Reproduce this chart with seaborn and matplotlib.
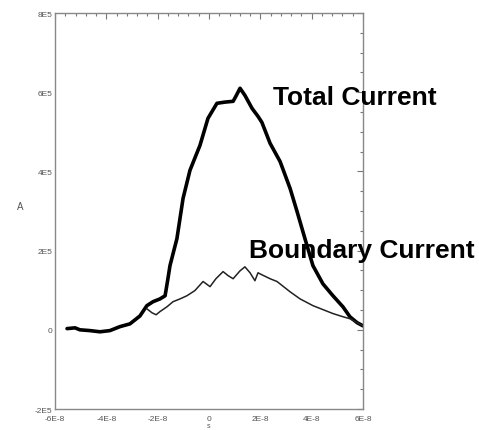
import numpy as np
import pandas as pd
import matplotlib
matplotlib.use("Agg")
import matplotlib.pyplot as plt
import seaborn as sns
from matplotlib.ticker import MultipleLocator

sns.set_style("white")
plt.rcParams['font.family'] = ['Liberation Sans', 'DejaVu Sans']

# time in units of 1E-8 s, current in units of 1E5 A
total_t = [-5.53, -5.22, -5.03, -4.64, -4.25, -3.86, -3.47, -3.08, -2.69, -2.42,
           -2.18, -1.91, -1.71, -1.60, -1.52, -1.25, -1.01, -0.74, -0.35, -0.04,
           0.31, 0.62, 0.94, 1.05, 1.21, 1.40, 1.68, 1.91, 2.06, 2.38,
           2.77, 3.16, 3.43, 3.74, 4.05, 4.44, 4.83, 5.22, 5.49, 5.77, 6.00]
total_i = [0.03, 0.05, 0.00, -0.02, -0.05, -0.02, 0.08, 0.15, 0.35, 0.61,
           0.71, 0.78, 0.86, 1.29, 1.62, 2.30, 3.32, 4.03, 4.66, 5.34,
           5.72, 5.75, 5.77, 5.90, 6.10, 5.92, 5.59, 5.39, 5.24, 4.71,
           4.25, 3.57, 2.99, 2.30, 1.62, 1.16, 0.86, 0.58, 0.33, 0.18, 0.10]

bound_t = [-2.42, -2.22, -2.06, -1.91, -1.64, -1.40, -1.13, -0.86, -0.55, -0.23,
           0.04, 0.27, 0.55, 0.74, 0.94, 1.21, 1.40, 1.60, 1.79, 1.91,
           2.06, 2.38, 2.65, 3.16, 3.55, 4.05, 4.44, 4.83, 5.22, 5.49, 5.77, 6.00]
bound_i = [0.53, 0.43, 0.38, 0.46, 0.58, 0.71, 0.78, 0.86, 0.99, 1.22,
           1.09, 1.29, 1.47, 1.37, 1.29, 1.49, 1.59, 1.44, 1.24, 1.44,
           1.39, 1.29, 1.22, 0.96, 0.78, 0.61, 0.51, 0.41, 0.33, 0.28, 0.18, 0.10]

xticks = [-6e-8, -4e-8, -2e-8, 0, 2e-8, 4e-8, 6e-8]
xticklabels = ["-6E-8", "-4E-8", "-2E-8", "0", "2E-8", "4E-8", "6E-8"]
yticks = [-2e5, 0, 2e5, 4e5, 6e5, 8e5]
yticklabels = ["-2E5", "0", "2E5", "4E5", "6E5", "8E5"]

df_total = pd.DataFrame({"t": np.array(total_t) * 1e-8, "I": np.array(total_i) * 1e5})
df_bound = pd.DataFrame({"t": np.array(bound_t) * 1e-8, "I": np.array(bound_i) * 1e5})

fig = plt.figure(figsize=(4.79, 4.31), dpi=100)
ax = fig.add_axes([0.1148, 0.0487, 0.643, 0.9188])

sns.lineplot(data=df_total, x="t", y="I", ax=ax, color="black", linewidth=2.6,
             estimator=None, sort=False)
sns.lineplot(data=df_bound, x="t", y="I", ax=ax, color="#222222", linewidth=1.1,
             estimator=None, sort=False)

ax.set_xlim(-6e-8, 6e-8)
ax.set_ylim(-2e5, 8e5)
ax.set_xticks(xticks)
ax.set_xticklabels(xticklabels)
ax.set_yticks(yticks)
ax.set_yticklabels(yticklabels)
ax.xaxis.set_minor_locator(MultipleLocator(0.4e-8))
ax.yaxis.set_minor_locator(MultipleLocator(0.5e5))
ax.tick_params(axis="both", which="both", direction="in", top=True, right=True,
               colors="#777777", labelcolor="#555555", labelsize=6, width=0.8)
ax.tick_params(axis="y", pad=2)
ax.tick_params(axis="x", pad=4)
ax.tick_params(which="major", length=4)
ax.tick_params(which="minor", length=2)
for s in ax.spines.values():
    s.set_color("#888888")
    s.set_linewidth(1.0)

ax.set_xlabel("s", fontsize=5, color="#555555", labelpad=0)
ax.set_ylabel("A", fontsize=7, color="#555555", rotation=0, labelpad=10)

ax.text(2.49e-8, 5.70e5, "Total Current", fontsize=19, fontweight="bold",
        va="baseline", ha="left", color="black", clip_on=False)
ax.text(1.56e-8, 1.85e5, "Boundary Current", fontsize=19, fontweight="bold",
        va="baseline", ha="left", color="black", clip_on=False)

fig.savefig("out.png", dpi=100)
